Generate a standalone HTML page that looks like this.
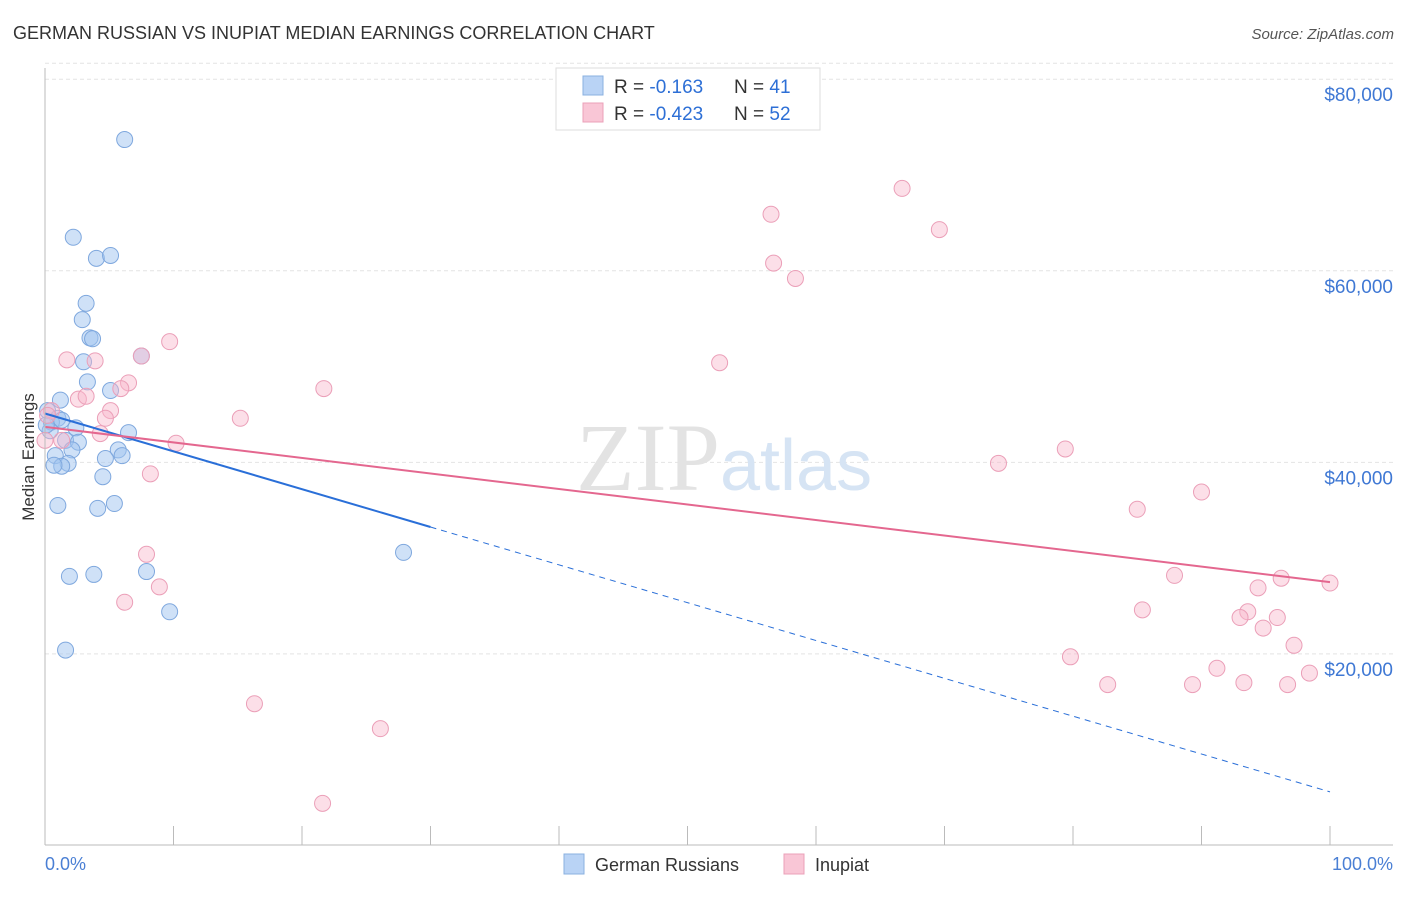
<!DOCTYPE html>
<html><head><meta charset="utf-8"><style>
body{margin:0;background:#fff;font-family:"Liberation Sans",sans-serif;}
</style></head><body>
<svg id="c" width="1406" height="892" xmlns="http://www.w3.org/2000/svg">
<text x="13" y="39" font-size="18" fill="#333">GERMAN RUSSIAN VS INUPIAT MEDIAN EARNINGS CORRELATION CHART</text>
<text x="1394" y="39" font-size="15" fill="#555" text-anchor="end" font-style="italic">Source: ZipAtlas.com</text>
<text x="0" y="0" transform="translate(34,457) rotate(-90)" font-size="17" fill="#333" text-anchor="middle">Median Earnings</text>
<g id="grid"></g>
<text x="720" y="490" font-size="96" fill="#e3e3e3" text-anchor="end" font-family="Liberation Serif,serif">ZIP</text>
<text x="720" y="490" font-size="72" fill="#d6e4f4">atlas</text>
<g id="pts"></g>
<g id="lines"></g>
<line x1="45" y1="845" x2="1393" y2="845" stroke="#bbb"/>
<line x1="45" y1="68" x2="45" y2="845" stroke="#bbb"/>
<text x="45" y="870" font-size="18" fill="#4a7fd4">0.0%</text>
<text x="1393" y="870" font-size="18" fill="#4a7fd4" text-anchor="end">100.0%</text>
<g>
<rect x="556" y="68" width="264" height="62" fill="#fff" stroke="#ddd"/>
<rect x="583" y="76" width="20" height="19" fill="#b9d3f5" stroke="#8ab0e0"/>
<rect x="583" y="103" width="20" height="19" fill="#f9c6d6" stroke="#eba0b8"/>
<text x="614" y="93" font-size="19" fill="#333">R = <tspan fill="#2d6fd6">-0.163</tspan></text>
<text x="734" y="93" font-size="19" fill="#333">N = <tspan fill="#2d6fd6"> 41</tspan></text>
<text x="614" y="120" font-size="19" fill="#333">R = <tspan fill="#2d6fd6">-0.423</tspan></text>
<text x="734" y="120" font-size="19" fill="#333">N = <tspan fill="#2d6fd6">52</tspan></text>
</g>
<g>
<rect x="564" y="854" width="20" height="20" fill="#b9d3f5" stroke="#8ab0e0"/>
<text x="595" y="871" font-size="18" fill="#333">German Russians</text>
<rect x="784" y="854" width="20" height="20" fill="#f9c6d6" stroke="#eba0b8"/>
<text x="815" y="871" font-size="18" fill="#333">Inupiat</text>
</g>
</svg>
<script>
const yTicks=[20000,40000,60000,80000];
const yTickLabels=["$20,000","$40,000","$60,000","$80,000"];
const xTicks=[0,10,20,30,40,50,60,70,80,90,100];
const blueX=[6.2,2.2,4.0,5.1,3.2,2.9,3.5,3.7,3.0,7.5,3.3,5.1,1.2,0.2,1.0,0.5,1.3,2.4,6.5,0.4,1.6,2.6,5.7,2.1,6.0,4.7,0.8,1.8,1.3,0.7,4.5,1.0,4.1,5.4,27.9,1.9,3.8,7.9,9.7,1.6,0.1];
const blueY=[73700,63500,61300,61600,56600,54900,53000,52900,50500,51100,48400,47500,46500,45400,44600,44200,44400,43600,43100,43300,42300,42100,41300,41300,40700,40400,40700,39900,39600,39700,38500,35500,35200,35700,30600,28100,28300,28600,24400,20400,43900];
const pinkX=[66.7,56.5,69.6,56.7,58.4,9.7,7.5,1.7,3.9,52.5,6.5,21.7,5.9,2.6,3.2,0.5,5.1,15.2,4.7,0.2,4.3,1.3,10.2,79.4,74.2,8.2,90.0,85.0,7.9,87.9,96.2,100.0,8.9,94.4,6.2,85.4,93.6,95.9,93.0,94.8,97.2,79.8,91.2,98.4,82.7,89.3,93.3,96.7,16.3,26.1,21.6,0.0];
const pinkY=[68600,65900,64300,60800,59200,52600,51100,50700,50600,50400,48300,47700,47700,46600,46900,45400,45400,44600,44600,44900,43000,42300,42000,41400,39900,38800,36900,35100,30400,28200,27900,27400,27000,26900,25400,24600,24400,23800,23800,22700,20900,19700,18500,18000,16800,16800,17000,16800,14800,12200,4400,42300];
const blueTrend=[45100,5600]; // value at 0% and 100%
const blueSolidEnd=30;
const pinkTrend=[43700,27500];
const sx=v=>45+v*12.85, sy=v=>845.5-v/104.4;
const NS="http://www.w3.org/2000/svg";
function mk(t,a,p){const e=document.createElementNS(NS,t);for(const k in a)e.setAttribute(k,a[k]);p.appendChild(e);return e;}
const g=document.getElementById('grid');
mk('line',{x1:45,x2:1393,y1:sy(80000)-16,y2:sy(80000)-16,stroke:'#e4e4e4','stroke-dasharray':'4,3'},g);
yTicks.forEach((t,i)=>{
 const l=mk('line',{x1:45,x2:1393,y1:sy(t),y2:sy(t),stroke:'#e4e4e4','stroke-dasharray':'4,3'},g);
 
 
 const tx=mk('text',{x:1393,y:sy(t)+22,'font-size':19,fill:'#3f78d4','text-anchor':'end'},g);
 tx.textContent=yTickLabels[i];
 
 
});
xTicks.forEach(t=>{
 const l=mk('line',{x1:sx(t),x2:sx(t),y1:826,y2:845,stroke:'#bbb'},g);
 
 
});
const p=document.getElementById('pts');
blueX.forEach((x,i)=>{
 const c=mk('circle',{cx:sx(x),cy:sy(blueY[i]),r:8,fill:'rgba(160,195,240,0.5)',stroke:'#7fa8de','stroke-width':1},p);
 
 
});
pinkX.forEach((x,i)=>{
 const c=mk('circle',{cx:sx(x),cy:sy(pinkY[i]),r:8,fill:'rgba(248,185,205,0.45)',stroke:'#eb9fb8','stroke-width':1},p);
 
 
});
const L=document.getElementById('lines');
const by=x=>blueTrend[0]+(blueTrend[1]-blueTrend[0])*x/100;
const b1=mk('line',{x1:sx(0),y1:sy(by(0)),x2:sx(blueSolidEnd),y2:sy(by(blueSolidEnd)),stroke:'#2a6fd8','stroke-width':2},L);


const b2=mk('line',{x1:sx(blueSolidEnd),y1:sy(by(blueSolidEnd)),x2:sx(100),y2:sy(by(100)),stroke:'#2a6fd8','stroke-width':1,'stroke-dasharray':'6,5'},L);


const p1=mk('line',{x1:sx(0),y1:sy(pinkTrend[0]),x2:sx(100),y2:sy(pinkTrend[1]),stroke:'#e4678f','stroke-width':2},L);


</script>
</body></html>
